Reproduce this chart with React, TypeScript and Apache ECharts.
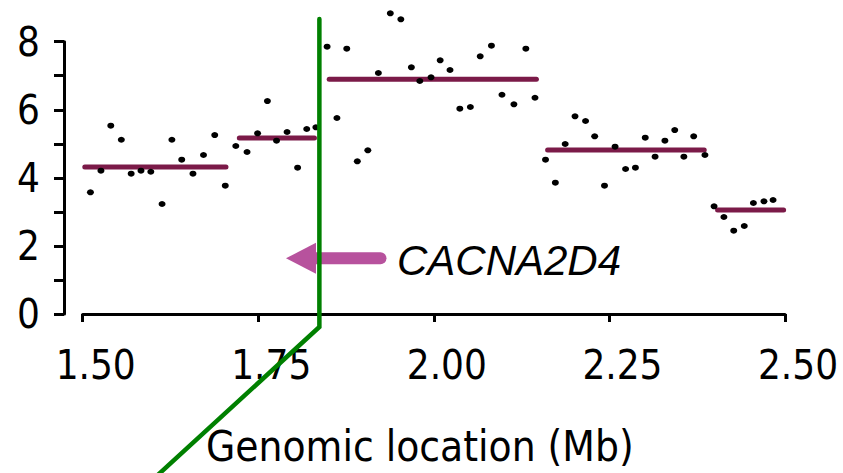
import React, { useEffect, useRef } from "react";
import * as echarts from "echarts";

// Probe positions (Mb) and copy-number values
const positions = [
  1.511, 1.526, 1.540, 1.555, 1.569, 1.583, 1.597, 1.613, 1.627, 1.641,
  1.657, 1.672, 1.688, 1.703, 1.718, 1.734, 1.749, 1.763, 1.776, 1.791,
  1.806, 1.819, 1.832, 1.848, 1.862, 1.876, 1.891, 1.906, 1.921, 1.938,
  1.953, 1.968, 1.980, 1.996, 2.009, 2.023, 2.037, 2.052, 2.066, 2.082,
  2.097, 2.114, 2.131, 2.144, 2.159, 2.173, 2.187, 2.201, 2.216, 2.229,
  2.243, 2.258, 2.273, 2.287, 2.301, 2.315, 2.329, 2.343, 2.356, 2.370,
  2.386, 2.399, 2.413, 2.427, 2.442, 2.455, 2.470, 2.483,
];
const values = [
  3.575, 4.210, 5.532, 5.120, 4.122, 4.210, 4.180, 3.231, 5.120, 4.533,
  4.122, 4.671, 5.258, 3.769, 4.935, 4.759, 5.308, 6.257, 5.091, 5.347,
  4.298, 5.435, 5.485, 7.853, 5.758, 7.794, 4.486, 4.809, 7.080, 8.834,
  8.657, 7.247, 6.845, 6.954, 7.453, 7.168, 6.031, 6.081, 7.570, 7.882,
  6.442, 6.160, 7.794, 6.354, 4.533, 3.857, 4.994, 5.808, 5.670, 5.220,
  3.769, 4.915, 4.260, 4.298, 5.179, 4.621, 5.091, 5.405, 4.621, 5.220,
  4.671, 3.164, 2.850, 2.447, 2.585, 3.261, 3.311, 3.349,
];

// Segment means
const segStart = [1.503, 1.723, 1.851, 2.162, 2.404];
const segEnd = [1.704, 1.830, 2.146, 2.385, 2.498];
const segMean = [4.32, 5.17, 6.895, 4.815, 3.055];

// Breakpoint line (green)
const breakX = [1.837, 1.837, 1.599];
const breakY = [8.67, -0.38, -4.88];

// Gene annotation arrow
const geneName = "CACNA2D4";
const geneY = 1.636;
const geneTail = 1.924;
const geneBase = 1.832;
const geneHead = 1.8108;

// Axes
const xMin = 1.5;
const xMax = 2.5;
const xStep = 0.25;
const yMin = 0;
const yMax = 8;
const yStep = 2;
const xTitle = "Genomic location (Mb)";

const FONT = "'DejaVu Sans Condensed', 'DejaVu Sans', sans-serif";

export default function App() {
  const ref = useRef<HTMLDivElement>(null);

  useEffect(() => {
    if (!ref.current) return;
    const chart = echarts.init(ref.current, null, { renderer: "svg" });

    const segSeries = segMean.map((m, i) => ({
      type: "line",
      data: [
        [segStart[i], m],
        [segEnd[i], m],
      ],
      showSymbol: false,
      symbol: "none",
      clip: false,
      lineStyle: { color: "#7B1A48", width: 5, cap: "round" },
      z: 2,
    }));

    chart.setOption({
      animation: false,
      grid: { left: 82.7, right: 58, top: 41.7, bottom: 159 },
      xAxis: {
        type: "value",
        min: xMin,
        max: xMax,
        interval: xStep,
        offset: 12.7,
        splitLine: { show: false },
        axisLine: { show: true, lineStyle: { color: "#000", width: 3 } },
        axisTick: { show: true, length: 8, lineStyle: { color: "#000", width: 3 } },
        axisLabel: {
          fontSize: 40,
          fontFamily: FONT,
          color: "#000",
          margin: 18,
          padding: [0, 0, 0, 26],
          formatter: (v: number) => v.toFixed(2),
        },
        name: xTitle,
        nameLocation: "middle",
        nameGap: 99,
        nameTextStyle: {
          fontSize: 42,
          fontFamily: FONT,
          color: "#000",
          padding: [0, 28, 0, 0],
        },
      },
      yAxis: {
        type: "value",
        min: yMin,
        max: yMax,
        interval: yStep,
        offset: 18.7,
        splitLine: { show: false },
        axisLine: { show: true, lineStyle: { color: "#000", width: 3 } },
        axisTick: { show: true, length: 10, lineStyle: { color: "#000", width: 3 } },
        minorTick: { show: true, splitNumber: 2, length: 10, lineStyle: { color: "#000", width: 3 } },
        minorSplitLine: { show: false },
        axisLabel: {
          fontSize: 40,
          fontFamily: FONT,
          color: "#000",
          margin: 24,
        },
      },
      series: [
        ...segSeries,
        {
          type: "scatter",
          data: positions.map((x, i) => [x, values[i]]),
          symbol: "circle",
          symbolSize: [7, 6],
          clip: false,
          itemStyle: { color: "#000", opacity: 1 },
          z: 3,
        },
        {
          type: "line",
          data: [
            [geneTail, geneY],
            [geneBase, geneY],
          ],
          showSymbol: false,
          symbol: "none",
          clip: false,
          lineStyle: { color: "#B7529D", width: 12, cap: "round" },
          z: 4,
        },
        {
          type: "scatter",
          data: [[geneHead, geneY]],
          symbol: "path://M0,50 L100,0 L100,100 Z",
          symbolSize: [30, 31],
          clip: false,
          itemStyle: { color: "#B7529D", opacity: 1 },
          z: 4,
        },
        {
          type: "scatter",
          data: [[geneTail, geneY]],
          symbolSize: 1,
          clip: false,
          itemStyle: { color: "#fff", opacity: 0 },
          label: {
            show: true,
            position: "right",
            distance: 16,
            offset: [0, 2],
            formatter: geneName,
            fontSize: 42,
            fontStyle: "italic",
            fontFamily: "'Liberation Sans', Arial, sans-serif",
            color: "#000",
            opacity: 1,
          },
          z: 4,
        },
        {
          type: "line",
          data: breakX.map((x, i) => [x, breakY[i]]),
          showSymbol: false,
          symbol: "none",
          clip: false,
          lineStyle: { color: "#008000", width: 4.5, cap: "round", join: "miter" },
          z: 5,
        },
      ],
    });

    return () => chart.dispose();
  }, []);

  return (
    <div
      ref={ref}
      style={{ position: "fixed", left: 0, top: 0, width: 843, height: 473, background: "#fff" }}
    />
  );
}
